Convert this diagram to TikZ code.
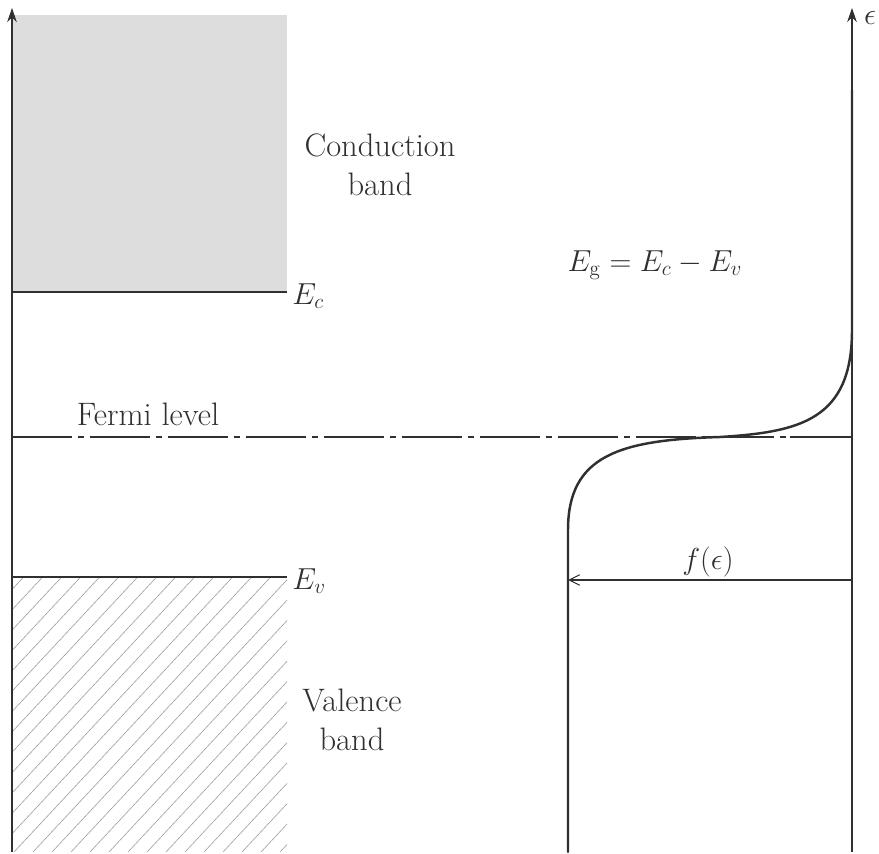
\documentclass[tikz,border=0pt]{standalone}
\usetikzlibrary{arrows.meta}
\definecolor{ink}{HTML}{303030}
\begin{document}
\begin{tikzpicture}[x=0.02cm,y=-0.02cm,
  axis/.style={draw=ink,line width=0.6pt},
  edge/.style={draw=ink,line width=0.9pt},
  curve/.style={draw=ink,line width=1.4pt,line cap=round},
  hatch/.style={draw=gray!75,line width=0.35pt},
  lbl/.style={text=ink,font=\fontsize{18.5}{22.5}\selectfont,inner sep=0pt,align=center},
  fermi/.style={draw=ink,line width=1.2pt,dash pattern=on 1.2cm off 0.12cm on 0.12cm off 0.12cm}]
\useasboundingbox (0,0) rectangle (879,854);
% conduction band
\fill[gray!27] (12,15) rectangle (287,292);
% valence band hatching
\begin{scope}
\clip (12,577) rectangle (287,852);
\foreach \k in {-290,-271,...,300} \draw[hatch] (\k,852) -- ++(280,-300);
\end{scope}
% coordinates
\coordinate (lb) at (12,852);
\coordinate (lt) at (12,8);
\coordinate (rb) at (852,852);
\coordinate (rt) at (852,8);
\coordinate (ec0) at (12,292);
\coordinate (ec1) at (287,292);
\coordinate (ev0) at (12,577);
\coordinate (ev1) at (287,577);
\coordinate (fl0) at (12,437);
\coordinate (fl1) at (790,437);
\coordinate (fl2) at (852,437);
\coordinate (fa) at (852,580);
\coordinate (fb) at (568,580);
\coordinate (ct) at (852,90);
\coordinate (cm) at (720,437);
\coordinate (cb) at (568,852);
% axes
\draw[axis,-{Stealth[length=8pt,width=5.5pt]}] (lb) -- (lt);
\draw[axis,-{Stealth[length=8pt,width=5.5pt]}] (rb) -- (rt);
% band edges
\draw[edge] (ec0) -- (ec1);
\draw[edge] (ev0) -- (ev1);
% Fermi level
\draw[fermi] (fl0) -- (fl1);
\draw[edge,line width=1.2pt] (fl1) -- (fl2);
% Fermi function
\draw[curve] (ct) -- (852,330)
  .. controls (852,420) and (800,432) .. (cm)
  .. controls (620,440) and (568,455) .. (568,530)
  -- (cb);
% f arrow
\draw[axis,-{Straight Barb[length=6pt,width=6pt]}] (fa) -- (fb);
% labels
\node[lbl] (cond) at (380,165) {Conduction\\band};
\node[lbl,anchor=west] (ec) at (292,296) {$E_c$};
\node[lbl] (fermilbl) at (148,414) {Fermi level};
\node[lbl] (eg) at (655,265) {$E_{\mathrm{g}} = E_c - E_v$};
\node[lbl,anchor=west] (ev) at (292,581) {$E_v$};
\node[lbl] (fe) at (708,562) {$f(\epsilon)$};
\node[lbl] (val) at (352,720) {Valence\\band};
\node[lbl] (eps) at (870,18) {$\epsilon$};
\end{tikzpicture}
\end{document}
